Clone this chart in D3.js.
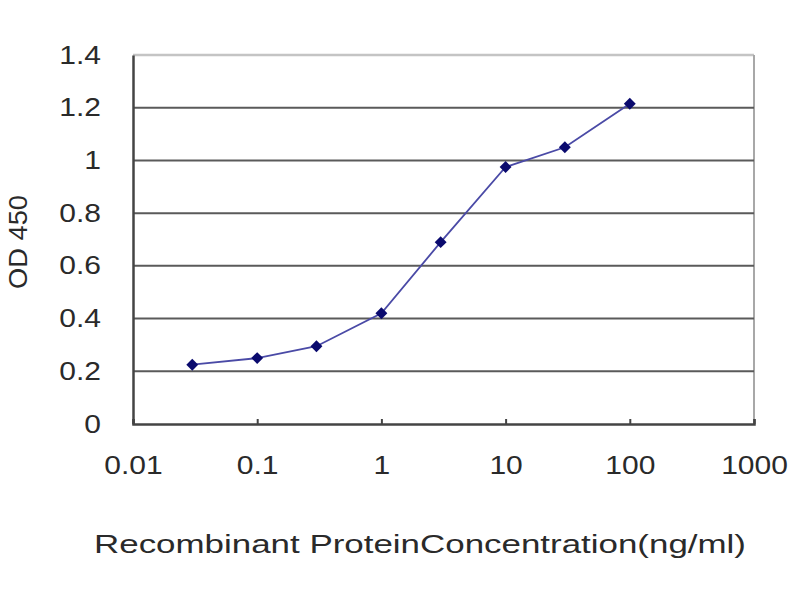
<!DOCTYPE html>
<html>
<head>
<meta charset="utf-8">
<script src="https://cdn.jsdelivr.net/npm/d3@7"></script>
<style>
  body { margin: 0; background: #fff; }
  svg text { font-family: "Liberation Sans", Arial, sans-serif; fill: #2a2a2a; }
</style>
</head>
<body>
<svg width="800" height="600"></svg>
<script>
// concentrations (ng/ml) and OD450 readings
var concentrations = [0.03, 0.1, 0.3, 1, 3, 10, 30, 100];
var od450 = [0.225, 0.25, 0.295, 0.42, 0.69, 0.975, 1.05, 1.215];
var xTicks = [0.01, 0.1, 1, 10, 100, 1000];
var yTicks = [0, 0.2, 0.4, 0.6, 0.8, 1, 1.2, 1.4];

var svg = d3.select("svg");
var plotLeft = 133, plotRight = 754, plotTop = 55, plotBottom = 424;

var x = d3.scaleLog().domain([0.01, 1000]).range([plotLeft, plotRight]);
var y = d3.scaleLinear().domain([0, 1.4]).range([plotBottom, plotTop]);

// the picture's text is stretched sideways, so widen glyphs a bit
function stretch(sel, k) {
  sel.each(function() {
    var w = this.getComputedTextLength();
    this.setAttribute("textLength", w * k);
    this.setAttribute("lengthAdjust", "spacingAndGlyphs");
  });
}

// plot frame (top + right are light)
svg.append("line").attr("x1", plotLeft).attr("x2", plotRight).attr("y1", plotTop).attr("y2", plotTop)
  .attr("stroke", "#c4c4c4").attr("stroke-width", 2.5);
svg.append("line").attr("x1", plotRight).attr("x2", plotRight).attr("y1", plotTop).attr("y2", plotBottom)
  .attr("stroke", "#a8a8a8").attr("stroke-width", 2);

// gridlines
svg.append("g").selectAll("line")
  .data(yTicks.filter(function(d) { return d > 0 && d < 1.4; }))
  .enter().append("line")
  .attr("x1", plotLeft).attr("x2", plotRight)
  .attr("y1", function(d) { return y(d); })
  .attr("y2", function(d) { return y(d); })
  .attr("stroke", "#5a5a5a").attr("stroke-width", 2);

// y axis
var yAxis = svg.append("g")
  .attr("transform", "translate(" + plotLeft + ",0)")
  .call(d3.axisLeft(y).tickValues(yTicks).tickSize(0).tickPadding(32)
    .tickFormat(function(d) { return d3.format("~g")(d); }));
yAxis.select(".domain").attr("stroke", "#444").attr("stroke-width", 2.5);
yAxis.selectAll("text").attr("font-size", 25).attr("fill", "#2a2a2a")
  .style("font-family", "Liberation Sans, Arial, sans-serif");
stretch(yAxis.selectAll("text"), 1.2);

// x axis
var xAxis = svg.append("g")
  .attr("transform", "translate(0," + plotBottom + ")")
  .call(d3.axisBottom(x).tickValues(xTicks).tickSize(-5).tickPadding(32)
    .tickFormat(function(d) { return d3.format("~g")(d); }));
xAxis.select(".domain").attr("stroke", "#444").attr("stroke-width", 2.5);
xAxis.selectAll(".tick line").attr("stroke", "#444").attr("stroke-width", 2);
xAxis.selectAll("text").attr("font-size", 25).attr("fill", "#2a2a2a")
  .style("font-family", "Liberation Sans, Arial, sans-serif");
stretch(xAxis.selectAll("text"), 1.2);

// axis titles
svg.append("text")
  .attr("x", 420).attr("y", 553)
  .attr("text-anchor", "middle")
  .attr("font-size", 26)
  .attr("textLength", 652)
  .attr("lengthAdjust", "spacingAndGlyphs")
  .text("Recombinant ProteinConcentration(ng/ml)");

svg.append("text")
  .attr("transform", "translate(27,242) rotate(-90)")
  .attr("text-anchor", "middle")
  .attr("font-size", 25)
  .attr("textLength", 94)
  .attr("lengthAdjust", "spacingAndGlyphs")
  .text("OD 450");

// series
var pts = concentrations.map(function(c, i) { return [c, od450[i]]; });
svg.append("path")
  .datum(pts)
  .attr("fill", "none")
  .attr("stroke", "#4a4aa6")
  .attr("stroke-width", 1.8)
  .attr("d", d3.line().x(function(d) { return x(d[0]); }).y(function(d) { return y(d[1]); }));

svg.append("g").selectAll("path")
  .data(pts)
  .enter().append("path")
  .attr("transform", function(d) { return "translate(" + x(d[0]) + "," + y(d[1]) + ")"; })
  .attr("d", d3.symbol().type(d3.symbolDiamond2).size(90))
  .attr("fill", "#0a0a6e");
</script>
</body>
</html>
